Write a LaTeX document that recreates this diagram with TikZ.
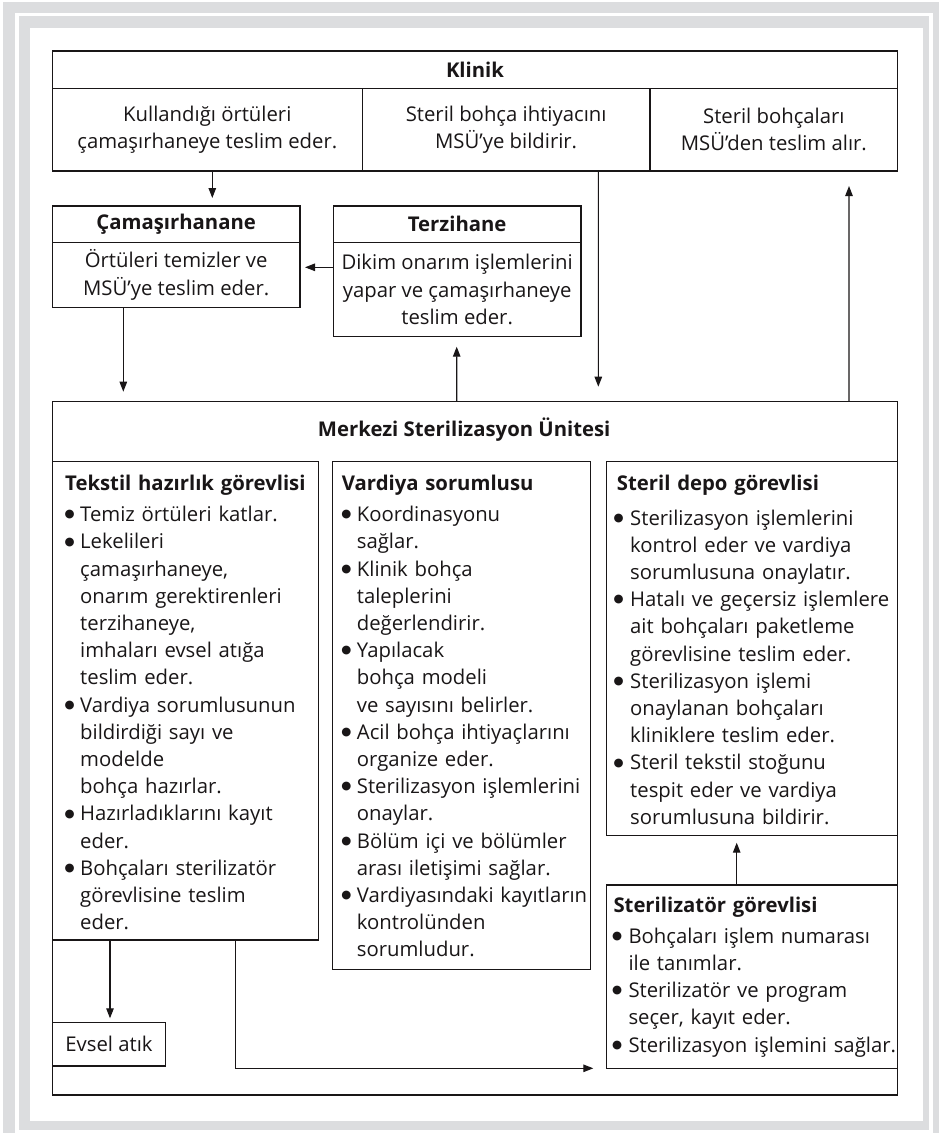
\documentclass[tikz,border=0pt]{standalone}
\usepackage{fontspec}
\setmainfont{Open Sans}
\newfontfamily\bulfont{DejaVu Sans}
\usetikzlibrary{arrows.meta}
\definecolor{ink}{RGB}{25,22,23}
\definecolor{framegray}{RGB}{220,221,223}
\newlength\bind
\setlength\bind{15bp}
\newcommand\bitem{\makebox[\bind][l]{\hspace{-0.5bp}\raisebox{3.8bp}{\bulfont\fontsize{11.5bp}{11.5bp}\selectfont ●}}}
\newcommand\bcont{\hspace*{\bind}}
\begin{document}
\begin{tikzpicture}[x=1bp,y=-1bp,
  box/.style={draw=ink, line width=1.3bp, inner sep=0pt, outer sep=0pt, anchor=north west, text=ink, font=\fontsize{20.3bp}{27.2bp}\selectfont},
  hdr/.style={box, font=\fontsize{20.3bp}{27.2bp}\selectfont\bfseries},
  cell/.style={box, align=center},
  ttl/.style={inner sep=0pt, anchor=base, text=ink, font=\fontsize{20.3bp}{27.2bp}\selectfont\bfseries},
  list/.style={inner sep=0pt, anchor=base west, align=left, text width=300bp, text=ink, font=\fontsize{20.3bp}{27.2bp}\selectfont},
  arr/.style={draw=ink, line width=1.1bp, -{Triangle[length=10bp,width=7.5bp]}},
]
\useasboundingbox (0,0) rectangle (939,1133);
\fill[white] (0,0) rectangle (939,1133);
% frame
\fill[framegray] (3.3,1.7) rectangle (939,1133);
\fill[white] (15,12.7) rectangle (933,1133);
\fill[framegray] (19,16) rectangle (929.3,1130);
\fill[white] (30,28.3) rectangle (922.7,1120.5);

% Klinik
\node[hdr, minimum width=845.4bp, minimum height=37.3bp] (klh) at (52.3,51) {Klinik};
\node[cell, minimum width=310bp, minimum height=82.7bp] (kc1) at (52.3,88.3) {Kullandığı örtüleri\\çamaşırhaneye teslim eder.};
\node[cell, minimum width=287.7bp, minimum height=82.7bp] (kc2) at (362.3,88.3) {Steril bohça ihtiyacını\\MSÜ’ye bildirir.};
\node[cell, minimum width=247.7bp, minimum height=82.7bp] (kc3) at (650,88.3) {Steril bohçaları\\MSÜ’den teslim alır.};

% Camasirhane / Terzihane
\node[hdr, minimum width=247.7bp, minimum height=36.3bp] (camh) at (52.3,206) {Çamaşırhanane};
\node[cell, minimum width=247.7bp, minimum height=65bp] (camb) at (52.3,242.3) {Örtüleri temizler ve\\MSÜ’ye teslim eder.};
\node[hdr, minimum width=247.7bp, minimum height=36.3bp] (terh) at (333.3,206) {Terzihane};
\node[cell, minimum width=247.7bp, minimum height=94.4bp] (terb) at (333.3,242.3) {Dikim onarım işlemlerini\\yapar ve çamaşırhaneye\\teslim eder.};

% MSU
\node[box, minimum width=845.4bp, minimum height=693.3bp] (msu) at (52.3,401.7) {};
\node[ttl] (msut) at (464.2,436.7) {Merkezi Sterilizasyon Ünitesi};

\node[box, minimum width=266bp, minimum height=478.3bp] (tek) at (52.3,461.7) {};
\node[box, minimum width=258.4bp, minimum height=507.6bp] (var) at (332.3,461.7) {};
\node[box, minimum width=291bp, minimum height=374bp] (dep) at (606.7,461.7) {};
\node[box, minimum width=291bp, minimum height=183.3bp] (stz) at (606.7,885) {};
\node[box, minimum width=113.4bp, minimum height=43.7bp] (evs) at (52.3,1022.3) {Evsel atık};

\node[list] (tekt) at (65,490) {\setlength\bind{15bp}\textbf{Tekstil hazırlık görevlisi}\\[4.5bp]
\bitem Temiz örtüleri katlar.\\
\bitem Lekelileri\\
\bcont çamaşırhaneye,\\
\bcont onarım gerektirenleri\\
\bcont terzihaneye,\\
\bcont imhaları evsel atığa\\
\bcont teslim eder.\\
\bitem Vardiya sorumlusunun\\
\bcont bildirdiği sayı ve\\
\bcont modelde\\
\bcont bohça hazırlar.\\
\bitem Hazırladıklarını kayıt\\
\bcont eder.\\
\bitem Bohçaları sterilizatör\\
\bcont görevlisine teslim\\
\bcont eder.};

\node[list] (vart) at (341.7,490) {\setlength\bind{15bp}\textbf{Vardiya sorumlusu}\\[4.5bp]
\bitem Koordinasyonu\\
\bcont sağlar.\\
\bitem Klinik bohça\\
\bcont taleplerini\\
\bcont değerlendirir.\\
\bitem Yapılacak\\
\bcont bohça modeli\\
\bcont ve sayısını belirler.\\
\bitem Acil bohça ihtiyaçlarını\\
\bcont organize eder.\\
\bitem Sterilizasyon işlemlerini\\
\bcont onaylar.\\
\bitem Bölüm içi ve bölümler\\
\bcont arası iletişimi sağlar.\\
\bitem Vardiyasındaki kayıtların\\
\bcont kontrolünden\\
\bcont sorumludur.};

\node[list] (dept) at (614,490) {\setlength\bind{16bp}\hspace*{2.7bp}\textbf{Steril depo görevlisi}\\[7.8bp]
\bitem Sterilizasyon işlemlerini\\
\bcont kontrol eder ve vardiya\\
\bcont sorumlusuna onaylatır.\\
\bitem Hatalı ve geçersiz işlemlere\\
\bcont ait bohçaları paketleme\\
\bcont görevlisine teslim eder.\\
\bitem Sterilizasyon işlemi\\
\bcont onaylanan bohçaları\\
\bcont kliniklere teslim eder.\\
\bitem Steril tekstil stoğunu\\
\bcont tespit eder ve vardiya\\
\bcont sorumlusuna bildirir.};

\node[list] (stzt) at (612.3,912.7) {\setlength\bind{16bp}\hspace*{1bp}\textbf{Sterilizatör görevlisi}\\[3.4bp]
\bitem Bohçaları işlem numarası\\
\bcont ile tanımlar.\\
\bitem Sterilizatör ve program\\
\bcont seçer, kayıt eder.\\
\bitem Sterilizasyon işlemini sağlar.};

% arrows
\draw[arr, shorten >=8bp] ([xshift=160bp]kc1.south west) -- ([xshift=160bp]camh.north west);
\draw[arr, shorten >=15bp] ([xshift=236bp]kc2.south west) -- ([xshift=546bp]msu.north west);
\draw[arr, shorten >=15bp] ([xshift=796.7bp]msu.north west) -- ([xshift=199bp]kc3.south west);
\draw[arr, shorten >=5bp] ([yshift=-25bp]terb.north west) -- ([yshift=-25bp]camb.north east);
\draw[arr, shorten >=10bp] ([xshift=71bp]camb.south west) -- ([xshift=71bp]msu.north west);
\draw[arr, shorten >=10bp] ([xshift=404.4bp]msu.north west) -- ([xshift=123.4bp]terb.south west);
\draw[arr, shorten >=7bp] ([xshift=130bp]stz.north west) -- ([xshift=130bp]dep.south west);
\draw[arr, shorten >=4bp] ([xshift=57.7bp]tek.south west) -- ([xshift=57.7bp]evs.north west);
\draw[arr, shorten >=13.4bp] ([xshift=183.4bp]tek.south west) |- (stz.south west);
\end{tikzpicture}
\end{document}
